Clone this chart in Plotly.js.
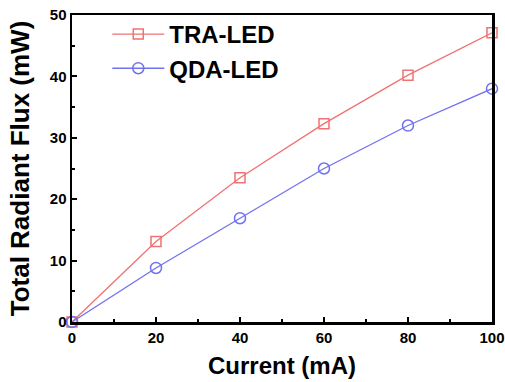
<!DOCTYPE html>
<html><head><meta charset="utf-8">
<script src="https://cdn.plot.ly/plotly-3.0.1.min.js"></script>
<style>body{margin:0;background:#fff}#c{width:505px;height:382px}</style>
</head><body><div id="c"></div>
<script>
const current = [0, 20, 40, 60, 80, 100];
const traLED = [0, 13.1, 23.5, 32.3, 40.2, 47.1];
const qdaLED = [0, 8.8, 16.9, 25.0, 32.0, 38.0];
const xTicks = [0, 20, 40, 60, 80, 100];
const yTicks = [0, 10, 20, 30, 40, 50];

const font = 'Liberation Sans, Arial, sans-serif';
const traces = [
  {x: current, y: traLED, name: 'TRA-LED', mode: 'lines+markers', cliponaxis: false,
   line: {color: '#f07272', width: 1.3},
   marker: {symbol: 'square-open', size: 10, color: '#f07272', line: {width: 1.5}}},
  {x: current, y: qdaLED, name: 'QDA-LED', mode: 'lines+markers', cliponaxis: false,
   line: {color: '#7272f0', width: 1.3},
   marker: {symbol: 'circle-open', size: 11, color: '#7272f0', line: {width: 1.5}}}
];
const axisCommon = {showgrid: false, zeroline: false, showline: true, linecolor: '#000', linewidth: 2.5,
  mirror: true, ticks: 'inside', ticklen: 5, tickwidth: 2, tickcolor: '#000',
  tickfont: {family: font, size: 15, color: '#000', weight: 'bold'}};
const layout = {
  width: 505, height: 382, paper_bgcolor: '#fff', plot_bgcolor: '#fff',
  margin: {l: 72, r: 13, t: 15, b: 60},
  showlegend: true,
  legend: {x: 0.084, y: 1.01, xanchor: 'left', yanchor: 'top', bgcolor: 'rgba(0,0,0,0)',
    font: {family: font, size: 24, color: '#000', weight: 'bold'}, itemwidth: 52, tracegroupgap: 0},
  xaxis: Object.assign({}, axisCommon, {range: [0, 100], tickvals: xTicks,
    minor: {dtick: 10, ticks: 'inside', ticklen: 3, tickwidth: 2, tickcolor: '#000'},
    title: {text: 'Current (mA)', font: {family: font, size: 24, color: '#000', weight: 'bold'}, standoff: 13}}),
  yaxis: Object.assign({}, axisCommon, {range: [0, 50], tickvals: yTicks,
    minor: {dtick: 5, ticks: 'inside', ticklen: 3, tickwidth: 2, tickcolor: '#000'},
    title: {text: 'Total Radiant Flux (mW)', font: {family: font, size: 26, color: '#000', weight: 'bold'}, standoff: 13}})
};
Plotly.newPlot('c', traces, layout, {displayModeBar: false, staticPlot: true});
</script></body></html>
